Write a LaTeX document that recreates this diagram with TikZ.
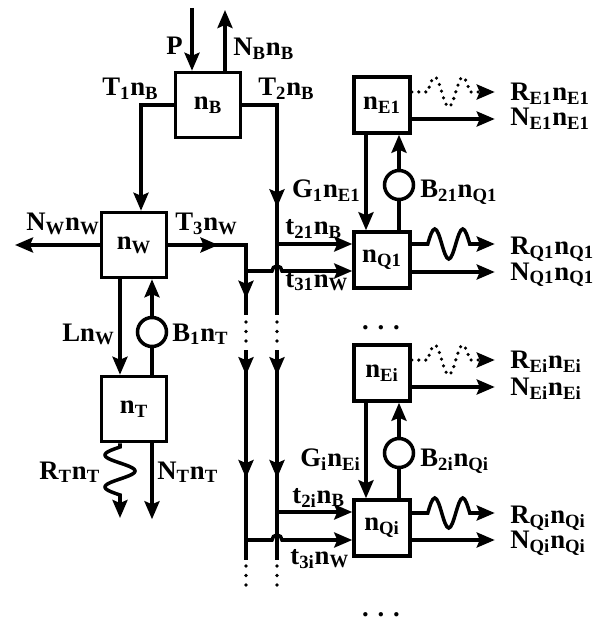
\documentclass[tikz,border=0pt]{standalone}
\usepackage{fontspec}
\setmainfont{Liberation Serif}
\usepackage{tikz}
\usetikzlibrary{arrows.meta,positioning,calc,decorations.markings}
\newcommand{\sbs}[1]{\textsubscript{#1}}

\begin{document}
\begin{tikzpicture}[x=0.02cm,y=-0.02cm,
  >={Stealth[length=0.36cm,width=0.3cm,inset=0.06cm]},
  compart/.style={draw,line width=2pt,minimum width=1.3cm,minimum height=1.3cm,inner sep=0pt,font=\fontsize{15.2}{17}\selectfont\bfseries},
  subcompart/.style={compart,minimum width=1.12cm,minimum height=1.12cm},
  gate/.style={draw,circle,line width=2pt,minimum size=0.58cm,inner sep=0pt},
  lbl/.style={inner sep=0pt,font=\fontsize{15.2}{17}\selectfont\bfseries},
  flow/.style={line width=2pt},
  arrow/.style={flow,->},
  midarrow/.style={flow,postaction={decorate,decoration={markings,mark=at position #1 with {\arrow{>}}}}},
  dotline/.style={line width=2.2pt,line cap=round,dash pattern=on 0pt off 0.19cm},
  dotwave/.style={->,line width=2pt,line cap=round,dash pattern=on 0pt off 0.14cm}
]
  \useasboundingbox (0,0) rectangle (599,621);

  \node[compart] (nB) at (208,105) {n\sbs{B}};
  \node[compart] (nW) at (134,245) {n\sbs{W}};
  \node[compart] (nT) at (134,409) {n\sbs{T}};
  \node[subcompart] (nE1) at (382,105) {n\sbs{E1}};
  \node[subcompart] (nQ1) at (382,260) {n\sbs{Q1}};
  \node[subcompart] (nEi) at (382,373) {n\sbs{Ei}};
  \node[subcompart] (nQi) at (382,528) {n\sbs{Qi}};

  \node[gate] (gB1) at (152,332) {};
  \node[gate] (gB21) at (399,185) {};
  \node[gate] (gB2i) at (399,453) {};

  \coordinate (pin) at (192,8);
  \coordinate (nbout) at (225,10);
  \coordinate (wout) at (15,245);
  \coordinate (t2c) at (277,105);
  \coordinate (t3c) at (246,245);
  \coordinate (lA) at (246,315);
  \coordinate (rA) at (277,315);
  \coordinate (lB) at (246,350);
  \coordinate (rB) at (277,350);
  \coordinate (lC) at (246,560);
  \coordinate (rC) at (277,560);
  \coordinate (q1in2) at ($(nQ1.west)+(0,-16)$);
  \coordinate (q1in3) at ($(nQ1.west)+(0,11)$);
  \coordinate (qiin2) at ($(nQi.west)+(0,-16)$);
  \coordinate (qiin3) at ($(nQi.west)+(0,12)$);

  \draw[arrow] (pin) -- (pin |- nB.north);
  \draw[arrow] (nbout |- nB.north) -- (nbout);
  \draw[arrow] (nB.west) -| ($(nW.north)+(7,0)$);
  \draw[midarrow=0.56] (nB.east) -- (t2c) -- (rA);
  \draw[arrow] (nW.west) -- (wout);
  \draw[midarrow=0.34,midarrow=0.89] (nW.east) -- (t3c) -- (lA);
  \draw[arrow] ($(nW.south)+(-14,0)$) -- ($(nT.north)+(-14,0)$);
  \draw[flow] ($(nT.north)+(18,0)$) -- (gB1);
  \draw[arrow] (gB1) -- ($(nW.south)+(18,0)$);
  \draw[arrow] ($(nT.south)+(18,0)$) -- ++(0,76);
  \draw[arrow] ($(nT.south)+(-14,0)$) -- ++(0,5) -- plot[domain=0:540,samples=55,variable=\t] ({120-15*sin(\t)},{447+\t/540*48}) -- ++(0,23);

  \draw[dotline] ($(lA)+(0,7)$) -- ($(lB)+(0,-8)$);
  \draw[dotline] ($(rA)+(0,7)$) -- ($(rB)+(0,-8)$);
  \draw[midarrow=0.12,midarrow=0.61] (lB) -- (lC);
  \draw[midarrow=0.12,midarrow=0.61] (rB) -- (rC);
  \draw[dotline] ($(lC)+(0,6)$) -- ++(0,24);
  \draw[dotline] ($(rC)+(0,6)$) -- ++(0,24);

  \draw[arrow] (q1in2 -| t2c) -- (q1in2);
  \draw[arrow] (q1in3 -| t3c) -- ($(q1in3 -| t2c)+(-5,0)$) arc[start angle=180,end angle=0,radius=0.1cm] -- (q1in3);
  \draw[arrow] ($(nE1.south)+(-16,0)$) -- ($(nQ1.north)+(-16,0)$);
  \draw[flow] ($(nQ1.north)+(17,0)$) -- (gB21);
  \draw[arrow] (gB21) -- ($(nE1.south)+(17,0)$);
  \draw[arrow] ($(nQ1.east)+(0,-16)$) -- ++(16,0) sin ++(7,-15) cos ++(7,15) sin ++(7,15) cos ++(7,-15) sin ++(7,-15) cos ++(7,15) -- ++(25,0);
  \draw[arrow] ($(nQ1.east)+(0,12)$) -- ++(83,0);
  \draw[dotwave] ($(nE1.east)+(0,-13)$) -- ++(16,0) sin ++(7,-15) cos ++(7,15) sin ++(7,15) cos ++(7,-15) sin ++(7,-15) cos ++(7,15) -- ++(25,0);
  \draw[arrow] ($(nE1.east)+(0,14)$) -- ++(83,0);

  \draw[arrow] (qiin2 -| t2c) -- (qiin2);
  \draw[arrow] (qiin3 -| t3c) -- ($(qiin3 -| t2c)+(-5,0)$) arc[start angle=180,end angle=0,radius=0.1cm] -- (qiin3);
  \draw[arrow] ($(nEi.south)+(-16,0)$) -- ($(nQi.north)+(-16,0)$);
  \draw[flow] ($(nQi.north)+(17,0)$) -- (gB2i);
  \draw[arrow] (gB2i) -- ($(nEi.south)+(17,0)$);
  \draw[arrow] ($(nQi.east)+(0,-15)$) -- ++(16,0) sin ++(7,-15) cos ++(7,15) sin ++(7,15) cos ++(7,-15) sin ++(7,-15) cos ++(7,15) -- ++(25,0);
  \draw[arrow] ($(nQi.east)+(0,12)$) -- ++(83,0);
  \draw[dotwave] ($(nEi.east)+(0,-13)$) -- ++(16,0) sin ++(7,-15) cos ++(7,15) sin ++(7,15) cos ++(7,-15) sin ++(7,-15) cos ++(7,15) -- ++(25,0);
  \draw[arrow] ($(nEi.east)+(0,14)$) -- ++(83,0);

  \node[lbl,anchor=base east] (lP) at (183,55) {P};
  \node[lbl,anchor=base west] (lNB) at (233,56) {N\sbs{B}n\sbs{B}};
  \node[lbl,anchor=base west] (lT1) at (102,96) {T\sbs{1}n\sbs{B}};
  \node[lbl,anchor=base west] (lT2) at (258,96) {T\sbs{2}n\sbs{B}};
  \node[lbl,anchor=base west] (lNW) at (26,231) {N\sbs{W}n\sbs{W}};
  \node[lbl,anchor=base west] (lT3) at (175,231) {T\sbs{3}n\sbs{W}};
  \node[lbl,anchor=base west] (lL) at (62,341) {Ln\sbs{W}};
  \node[lbl,anchor=base west] (lB1) at (172,341) {B\sbs{1}n\sbs{T}};
  \node[lbl,anchor=base west] (lRT) at (39,479) {R\sbs{T}n\sbs{T}};
  \node[lbl,anchor=base west] (lNT) at (157,479) {N\sbs{T}n\sbs{T}};

  \node[lbl,anchor=base east] (lG1) at (361,198) {G\sbs{1}n\sbs{E1}};
  \node[lbl,anchor=base west] (lB21) at (420,198) {B\sbs{21}n\sbs{Q1}};
  \node[lbl,anchor=base west] (lt21) at (285,235) {t\sbs{21}n\sbs{B}};
  \node[lbl,anchor=base west] (lt31) at (285,287) {t\sbs{31}n\sbs{W}};
  \node[lbl,anchor=base west] (lRE1) at (510,101) {R\sbs{E1}n\sbs{E1}};
  \node[lbl,anchor=base west] (lNE1) at (510,126) {N\sbs{E1}n\sbs{E1}};
  \node[lbl,anchor=base west] (lRQ1) at (510,255) {R\sbs{Q1}n\sbs{Q1}};
  \node[lbl,anchor=base west] (lNQ1) at (510,280) {N\sbs{Q1}n\sbs{Q1}};

  \node[lbl,anchor=base east] (lGi) at (361,466) {G\sbs{i}n\sbs{Ei}};
  \node[lbl,anchor=base west] (lB2i) at (420,466) {B\sbs{2i}n\sbs{Qi}};
  \node[lbl,anchor=base west] (lt2i) at (292,503) {t\sbs{2i}n\sbs{B}};
  \node[lbl,anchor=base west] (lt3i) at (290,564) {t\sbs{3i}n\sbs{W}};
  \node[lbl,anchor=base west] (lREi) at (510,368) {R\sbs{Ei}n\sbs{Ei}};
  \node[lbl,anchor=base west] (lNEi) at (510,395) {N\sbs{Ei}n\sbs{Ei}};
  \node[lbl,anchor=base west] (lRQi) at (510,523) {R\sbs{Qi}n\sbs{Qi}};
  \node[lbl,anchor=base west] (lNQi) at (510,548) {N\sbs{Qi}n\sbs{Qi}};

  \node[lbl,anchor=base] (dotsA) at (381,329) {. . .};
  \node[lbl,anchor=base] (dotsB) at (381,616) {. . .};
\end{tikzpicture}
\end{document}
